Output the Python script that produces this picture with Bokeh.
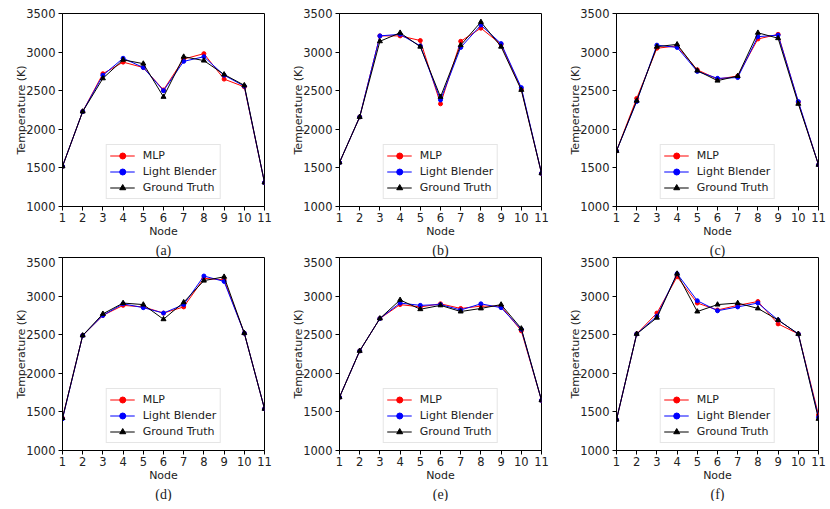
from bokeh.plotting import figure
from bokeh.layouts import gridplot
from bokeh.models import Title, FixedTicker
from bokeh.embed import file_html
from bokeh.resources import INLINE

nodes = [1, 2, 3, 4, 5, 6, 7, 8, 9, 10, 11]
captions = ["(a)", "(b)", "(c)", "(d)", "(e)", "(f)"]
y_ticks = [1000, 1500, 2000, 2500, 3000, 3500]

mlp_a = [1520, 2230, 2720, 2870, 2800, 2510, 2910, 2980, 2650, 2550, 1310]
lb_a = [1520, 2230, 2700, 2920, 2800, 2500, 2880, 2940, 2700, 2560, 1310]
gt_a = [1520, 2230, 2660, 2900, 2850, 2420, 2940, 2890, 2710, 2570, 1310]

mlp_b = [1570, 2160, 3210, 3210, 3150, 2330, 3140, 3310, 3100, 2520, 1430]
lb_b = [1570, 2160, 3210, 3230, 3080, 2380, 3060, 3350, 3110, 2540, 1430]
gt_b = [1570, 2160, 3140, 3250, 3070, 2420, 3090, 3390, 3070, 2510, 1430]

mlp_c = [1720, 2400, 3050, 3080, 2770, 2650, 2690, 3170, 3230, 2350, 1540]
lb_c = [1720, 2360, 3090, 3060, 2750, 2660, 2670, 3200, 3220, 2360, 1540]
gt_c = [1720, 2370, 3070, 3100, 2760, 2630, 2690, 3250, 3180, 2330, 1540]

mlp_d = [1420, 2490, 2750, 2880, 2860, 2780, 2860, 3230, 3210, 2520, 1540]
lb_d = [1410, 2490, 2750, 2900, 2850, 2780, 2890, 3260, 3190, 2520, 1540]
gt_d = [1420, 2490, 2770, 2910, 2890, 2700, 2920, 3200, 3250, 2520, 1540]

mlp_e = [1690, 2290, 2710, 2890, 2860, 2900, 2840, 2870, 2870, 2550, 1650]
lb_e = [1690, 2290, 2710, 2910, 2880, 2890, 2820, 2900, 2850, 2570, 1650]
gt_e = [1690, 2290, 2710, 2950, 2830, 2880, 2800, 2840, 2890, 2580, 1650]

mlp_f = [1400, 2510, 2780, 3250, 2910, 2820, 2880, 2930, 2640, 2510, 1460]
lb_f = [1400, 2510, 2740, 3290, 2940, 2810, 2860, 2910, 2690, 2510, 1430]
gt_f = [1400, 2510, 2720, 3290, 2800, 2890, 2910, 2840, 2690, 2510, 1410]

panels = [
    (mlp_a, lb_a, gt_a), (mlp_b, lb_b, gt_b), (mlp_c, lb_c, gt_c),
    (mlp_d, lb_d, gt_d), (mlp_e, lb_e, gt_e), (mlp_f, lb_f, gt_f),
]

FONT = "DejaVu Sans"


def make_panel(idx, mlp, lb, gt):
    col = idx % 3
    row = idx // 3
    p = figure(
        frame_width=202, frame_height=193,
        x_range=(1, 11), y_range=(1000, 3500),
        output_backend="svg", toolbar_location=None,
        min_border_left=62, min_border_right=(13 if col < 2 else 10),
        min_border_top=(13 if row == 0 else 0), min_border_bottom=0,
        background_fill_color="white", border_fill_color="white",
    )
    p.grid.visible = False
    p.outline_line_color = "black"
    p.outline_line_width = 1
    p.xaxis.ticker = FixedTicker(ticks=nodes)
    p.yaxis.ticker = FixedTicker(ticks=y_ticks)
    for ax in (p.xaxis[0], p.yaxis[0]):
        ax.minor_tick_line_color = None
        ax.major_tick_in = 0
        ax.major_tick_out = 4
        ax.axis_line_color = "black"
        ax.major_tick_line_color = "black"
        ax.major_label_text_font = FONT
        ax.major_label_text_font_size = "11.5px"
        ax.major_label_text_color = "#222222"
        ax.major_label_standoff = 3
        ax.axis_label_text_font = FONT
        ax.axis_label_text_font_size = "11px"
        ax.axis_label_text_font_style = "normal"
        ax.axis_label_text_color = "#222222"
    p.xaxis.axis_label = "Node"
    p.yaxis.axis_label = "Temperature (K)"
    p.xaxis.major_label_standoff = 2
    p.xaxis.axis_label_standoff = 0
    p.yaxis.axis_label_standoff = -5

    p.line(nodes, mlp, color="red", line_width=1, legend_label="MLP")
    p.scatter(nodes, mlp, color="red", size=4, marker="circle", legend_label="MLP")
    p.line(nodes, lb, color="blue", line_width=1, legend_label="Light Blender")
    p.scatter(nodes, lb, color="blue", size=4, marker="circle", legend_label="Light Blender")
    p.line(nodes, gt, color="black", line_width=1, legend_label="Ground Truth")
    p.scatter(nodes, gt, color="black", size=5, marker="triangle", legend_label="Ground Truth")

    lg = p.legend[0]
    lg.location = "bottom_center"
    lg.margin = 7
    lg.padding = 3
    lg.spacing = 1
    lg.glyph_width = 25
    lg.glyph_height = 15
    lg.label_height = 15
    lg.label_standoff = 8
    lg.label_text_font = FONT
    lg.label_text_font_size = "11px"
    lg.label_text_color = "#222222"
    lg.border_line_color = "#cccccc"
    lg.background_fill_alpha = 0.85

    cap = Title(text=captions[idx], align="center", text_font="Liberation Serif",
                text_font_size="14px", text_font_style="normal", text_color="#222222",
                standoff=0, offset=0)
    p.add_layout(cap, "below")
    return p


figs = [make_panel(i, *panels[i]) for i in range(6)]
grid = gridplot([figs[0:3], figs[3:6]], toolbar_location=None)

open("out.html", "w").write(file_html(grid, INLINE))
